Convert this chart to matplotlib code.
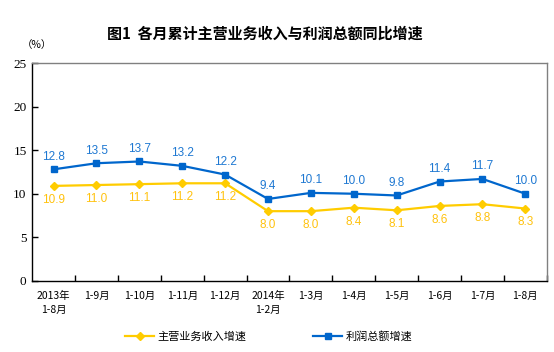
import matplotlib.pyplot as plt

plt.rcParams['font.family'] = ['Noto Sans CJK SC', 'DejaVu Sans']

# 月份
yuefen = ["2013年\n1-8月", "1-9月", "1-10月", "1-11月", "1-12月", "2014年\n1-2月",
          "1-3月", "1-4月", "1-5月", "1-6月", "1-7月", "1-8月"]

# 主营业务收入增速 (%)
shouru = [10.9, 11.0, 11.1, 11.2, 11.2, 8.0, 8.0, 8.4, 8.1, 8.6, 8.8, 8.3]

# 利润总额增速 (%)
lirun = [12.8, 13.5, 13.7, 13.2, 12.2, 9.4, 10.1, 10.0, 9.8, 11.4, 11.7, 10.0]

blu = '#0066CC'
gia = '#FFCC00'

fig = plt.figure(figsize=(5.54, 3.52), dpi=100)
ax = fig.add_axes([0.058, 0.202, 0.929, 0.619])

x = list(range(len(yuefen)))
ax.plot(x, shouru, color=gia, lw=1.6, marker='D', ms=4, label='主营业务收入增速')
ax.plot(x, lirun, color=blu, lw=1.6, marker='s', ms=4.5, label='利润总额增速')

for i in x:
    ax.annotate(f"{lirun[i]:.1f}", (i, lirun[i]), xytext=(0, 9), textcoords='offset points',
                ha='center', va='center', fontsize=8.5, color='#1E78D2', family='Liberation Sans')
    ax.annotate(f"{shouru[i]:.1f}", (i, shouru[i]), xytext=(0, -10), textcoords='offset points',
                ha='center', va='center', fontsize=8.5, color='#FFC20E', family='Liberation Sans')

ax.set_xlim(-0.5, len(yuefen) - 0.5)
ax.set_ylim(0, 25)
ax.set_yticks([0, 5, 10, 15, 20, 25])
ax.tick_params(axis='y', direction='in', length=4, width=1, pad=4,
               labelsize=9.5, labelfontfamily='Liberation Serif')
ax.set_xticks(x)
ax.set_xticklabels(yuefen, fontsize=7.5, linespacing=1.5)
ax.set_xticks([i + 0.5 for i in x], minor=True)
ax.tick_params(axis='x', which='major', length=0, pad=7)
ax.tick_params(axis='x', which='minor', direction='in', length=4, width=1)

ax.spines['left'].set_color('black')
ax.spines['bottom'].set_color('black')
ax.spines['top'].set_color('#808080')
ax.spines['right'].set_color('#808080')
for s in ax.spines.values():
    s.set_linewidth(1)

fig.text(0.478, 0.903, "图1  各月累计主营业务收入与利润总额同比增速", ha='center', va='center',
         fontsize=10.8, fontweight='bold')
fig.text(0.04, 0.872, "（%）", ha='left', va='center', fontsize=7.5)

fig.legend(loc='center', bbox_to_anchor=(0.485, 0.045), ncol=2, frameon=False,
           fontsize=8, handlelength=2.6, columnspacing=6, handletextpad=0.3)

fig.savefig('out.png', dpi=100)
